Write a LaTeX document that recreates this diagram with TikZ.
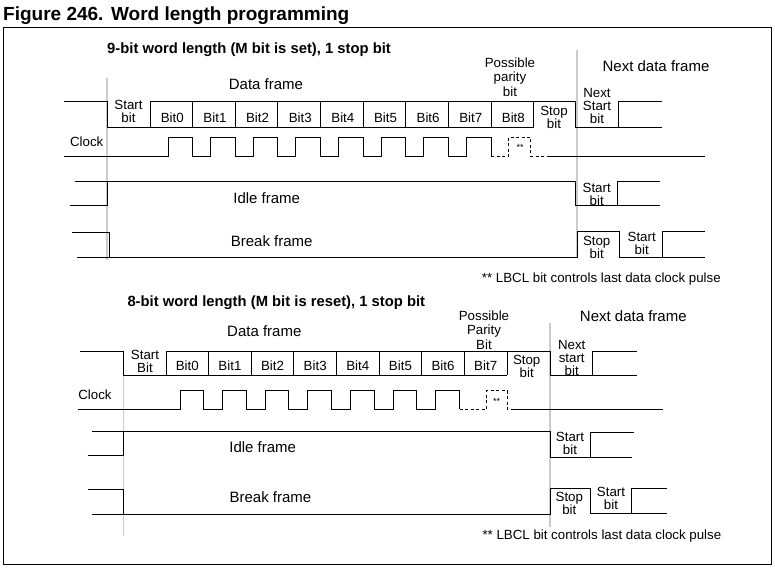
\documentclass[tikz,border=0pt]{standalone}
\usepackage{fontspec}
\setmainfont{Liberation Sans}

\tikzset{
  sig/.style={line width=0.8pt},
  sigdash/.style={line width=0.8pt, dash pattern=on 3pt off 2.5pt},
  guide/.style={line width=1.6pt, gray!40},
  lbl/.style={font=\fontsize{13.3}{13}\selectfont, align=center, inner sep=0pt},
  frm/.style={font=\fontsize{15}{17}\selectfont, inner sep=0pt, anchor=base},
  hdr/.style={font=\bfseries\fontsize{14.8}{17}\selectfont, inner sep=0pt, anchor=base west},
}

\begin{document}
\begin{tikzpicture}[x=1pt, y=-1pt]
  \useasboundingbox (0,0) rectangle (775,567);

  % Title and outer frame
  \node[font=\bfseries\fontsize{19}{21}\selectfont, inner sep=0pt, anchor=base west] (title) at (3,21)
    {Figure 246.\hspace{0.4em}Word length programming};
  \draw[line width=1pt] (3,28) rectangle (771,564);

  % ---------------- 9-bit word length ----------------
  \node[hdr] (head9) at (107,53.3) {9-bit word length (M bit is set), 1 stop bit};

  % Frame guides
  \draw[guide] (107,78) -- (107,260);
  \draw[guide] (576.7,50) -- (576.7,258);

  % Data frame
  \node[frm] (data9) at (266,90) {Data frame};
  \node[frm] (next9) at (656,71.3) {Next data frame};
  \draw[sig] (64,101.7) -| (107,127.3) -- (533.7,127.3);
  \draw[sig] (150,127.3) |- (575,101.7) |- (662,127.3);
  \draw[sig] (618.3,127.3) |- (662,101.7);
  \foreach \i in {1,...,9}
    \draw[sig] ({150+\i*42.63},101.7) -- ({150+\i*42.63},127.3);
  \node[lbl] (start9) at (128.5,111.5) {Start\\bit};
  \foreach \i in {0,...,8}
    \node[lbl, anchor=base] (bit9\i) at ({150+(\i+0.5)*42.63+1},122) {Bit\i};
  \node[lbl] (stop9) at (554,117.5) {Stop\\bit};
  \node[lbl] (nstart9) at (597,105.5) {Next\\Start\\bit};
  \node[lbl, font=\fontsize{13.3}{14.5}\selectfont] (par9) at (510,77) {Possible\\parity\\bit};

  % Clock
  \node[lbl, anchor=base] (clk9) at (86.7,146.5) {Clock};
  \draw[sig] (64,156.2) foreach \i in {0,...,7} {
      -- ({150+\i*42.63+18},156.2) -- ++(0,-18.8)
      -- ({150+(\i+1)*42.63},137.4) -- ++(0,18.8) };
  \draw[sigdash] (491,156.2) -- (508.5,156.2) -- (508.5,137.4) -- (530.7,137.4)
    -- (530.7,156.2) -- (546.7,156.2);
  \draw[sig] (546.7,156.2) -- (705,156.2);
  \node[lbl, font=\fontsize{9}{9}\selectfont] (lbcl9) at (520,147) {**};

  % Idle frame
  \node[frm] (idle9) at (266.7,203.3) {Idle frame};
  \draw[sig] (75,181) -- (575,181) |- (660,205.5);
  \draw[sig] (70,205.5) -| (107,181);
  \draw[sig] (617.3,205.5) |- (660,181);
  \node[lbl] (istart9) at (596.7,194) {Start\\bit};

  % Break frame
  \node[frm] (brk9) at (271.7,246) {Break frame};
  \draw[sig] (72.3,232) -| (109.3,257.3);
  \draw[sig] (77.3,257.3) -- (577.7,257.3) |- (619.3,231) |- (705,257.3);
  \draw[sig] (662.3,257.3) |- (705,231);
  \node[lbl] (bstop9) at (596.7,247) {Stop\\bit};
  \node[lbl] (bstart9) at (641.7,243.3) {Start\\bit};

  \node[lbl, anchor=base west] (note9) at (481.7,282.3) {** LBCL bit controls last data clock pulse};

  % ---------------- 8-bit word length ----------------
  \node[hdr] (head8) at (127.3,306.5) {8-bit word length (M bit is reset), 1 stop bit};

  % Frame guides
  \draw[guide] (123.3,351.7) -- (123.3,536);
  \draw[guide] (549.7,323) -- (549.7,527);

  % Data frame
  \node[frm] (data8) at (264.3,336.5) {Data frame};
  \node[frm] (next8) at (633.3,321.7) {Next data frame};
  \draw[sig] (80,351.7) -| (123.3,375) -- (507,375);
  \draw[sig] (166,375) |- (550,351.7) |- (636.7,375);
  \draw[sig] (592.3,375) |- (636.7,351.7);
  \foreach \i in {1,...,8}
    \draw[sig] ({166+\i*42.625},351.7) -- ({166+\i*42.625},375);
  \node[lbl] (start8) at (145,361) {Start\\Bit};
  \foreach \i in {0,...,7}
    \node[lbl, anchor=base] (bit8\i) at ({166+(\i+0.5)*42.625},370) {Bit\i};
  \node[lbl] (stop8) at (526.7,366) {Stop\\bit};
  \node[lbl] (nstart8) at (571.7,357.5) {Next\\start\\bit};
  \node[lbl, font=\fontsize{13.3}{14.5}\selectfont] (par8) at (484,330) {Possible\\Parity\\Bit};

  % Clock
  \node[lbl, anchor=base] (clk8) at (95,399) {Clock};
  \draw[sig] (78.3,409.3) foreach \i in {0,...,6} {
      -- ({180+\i*42.6},409.3) -- ++(0,-18.6)
      -- ++(23.5,0) -- ++(0,18.6) };
  \draw[sigdash] (459.7,409.3) -- (486.7,409.3) -- (486.7,390.7) -- (507.3,390.7)
    -- (507.3,409.3) -- (511,409.3);
  \draw[sig] (511,409.3) -- (663.3,409.3);
  \node[lbl, font=\fontsize{9}{9}\selectfont] (lbcl8) at (496.7,401) {**};

  % Idle frame
  \node[frm] (idle8) at (262.7,452.3) {Idle frame};
  \draw[sig] (92.3,431) -- (550,431) |- (632.3,457);
  \draw[sig] (87.7,455) -| (123.3,431);
  \draw[sig] (590.7,457) |- (634,432);
  \node[lbl] (istart8) at (570,443.7) {Start\\bit};

  % Break frame
  \node[frm] (brk8) at (270.5,502.7) {Break frame};
  \draw[sig] (87.7,489) -| (123.3,514);
  \draw[sig] (92.3,514) -- (550,514) |- (590.7,488) |- (667,513);
  \draw[sig] (631.7,513) |- (667,488);
  \node[lbl] (bstop8) at (569.3,503.3) {Stop\\bit};
  \node[lbl] (bstart8) at (611,498.3) {Start\\bit};

  \node[lbl, anchor=base west] (note8) at (482.3,539.5) {** LBCL bit controls last data clock pulse};
\end{tikzpicture}
\end{document}
